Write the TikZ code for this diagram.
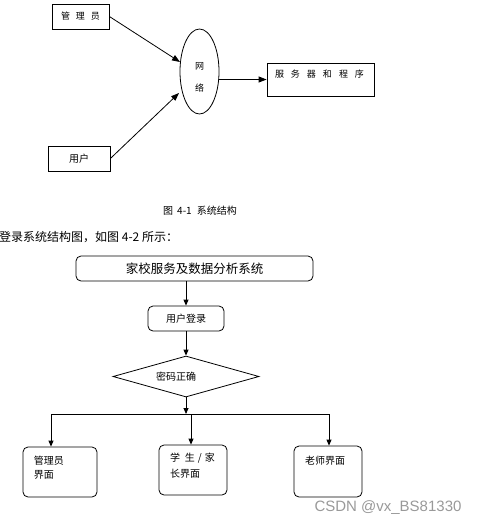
\documentclass[tikz,border=0pt]{standalone}
\usepackage{fontspec}
\setmainfont{Liberation Serif}
\newfontfamily\cjk{Noto Sans CJK SC}
\newfontfamily\wmfont{Liberation Sans}
\usetikzlibrary{arrows.meta,shapes.geometric}
\newcommand\tbox[4]{\parbox[c][#2][t]{#1}{\vspace*{#3}#4}}
\begin{document}
\begin{tikzpicture}[x=1pt,y=-1pt,
  every node/.style={font=\cjk},
  sq/.style={draw, line width=0.8pt, inner sep=0pt},
  rb/.style={draw, line width=0.8pt, inner sep=0pt, rounded corners=5pt},
  bigarr/.style={line width=0.8pt, -{Triangle[length=8pt,width=6pt]}},
  arr/.style={line width=0.8pt, -{Triangle[length=6pt,width=5pt]}},
  ln/.style={line width=0.8pt}]
\useasboundingbox (0,0) rectangle (479,525);
% ---- figure 4-1 ----
\node[sq, minimum width=57pt, minimum height=25pt, font=\cjk\fontsize{9pt}{11pt}\selectfont] (adm) at (80.5,16.5) {管\hspace{6pt}理\hspace{6pt}员};
\node[sq, minimum width=62pt, minimum height=25pt, font=\cjk\fontsize{10pt}{12pt}\selectfont] (usr) at (79,158.5) {用户};
\node[draw, line width=0.8pt, ellipse, minimum width=39pt, minimum height=85pt, inner sep=0pt,
  label={[font=\cjk\fontsize{9pt}{11pt}\selectfont, yshift=-5.5pt]center:{\shortstack{网\\[11pt]络}}}] (net) at (199.5,71.5) {};
\node[sq, font=\cjk\fontsize{9pt}{11pt}\selectfont] (srv) at (320.5,79.5)
  {\tbox{107pt}{33pt}{7pt}{\hspace*{8pt}服\hspace{7pt}务\hspace{7pt}器\hspace{7pt}和\hspace{7pt}程\hspace{7pt}序}};
\coordinate (netin1) at (180,62);
\coordinate (netin2) at (179,93);
\draw[bigarr] (adm.east) -- (netin1);
\draw[bigarr] (usr.east) -- (netin2);
\draw[bigarr] (net.east |- srv.west) -- (srv.west);
\node[font=\cjk\fontsize{10pt}{12pt}\selectfont] (cap) at (200,211) {图\hspace{4pt}4-1\hspace{5pt}系统结构};
\node[anchor=west, inner sep=0pt, font=\cjk\fontsize{12pt}{14pt}\selectfont] (intro) at (-1,237) {登录系统结构图，如图 4-2 所示：};
% ---- figure 4-2 ----
\node[rb, minimum width=237pt, minimum height=25pt, font=\cjk\fontsize{12.5pt}{14pt}\selectfont] (sys) at (194.5,268.5) {家校服务及数据分析系统};
\node[rb, minimum width=76pt, minimum height=25pt, font=\cjk\fontsize{10pt}{12pt}\selectfont] (login) at (186,318.5) {用户登录};
\node[draw, line width=0.8pt, diamond, minimum width=146pt, minimum height=41pt, inner sep=0pt,
  label={[font=\cjk\fontsize{10pt}{12pt}\selectfont, xshift=-10pt]center:密码正确}] (chk) at (186,376.5) {};
\node[rb, font=\cjk\fontsize{10pt}{14pt}\selectfont] (adm2) at (60,472)
  {\tbox{74pt}{50pt}{9pt}{\hspace*{11pt}管理员\\\hspace*{11pt}界面}};
\node[rb, font=\cjk\fontsize{10pt}{16pt}\selectfont] (stu) at (193,470)
  {\tbox{68pt}{50pt}{8pt}{\hspace*{11pt}学\hspace{5pt}生\hspace{3pt}/\hspace{3pt}家\\\hspace*{11pt}长界面}};
\node[rb, font=\cjk\fontsize{10pt}{14pt}\selectfont] (tea) at (328,471.5)
  {\tbox{68pt}{51pt}{10pt}{\hspace*{11pt}老师界面}};
\coordinate (br) at (186,414);
\coordinate (bl) at (51,414);
\coordinate (bm) at (191,414);
\coordinate (bR) at (329,414);
\draw[arr] (sys.south -| login.north) -- (login.north);
\draw[arr] (login.south) -- (chk.north);
\draw[arr] (chk.south) -- (br);
\draw[ln] (bl) -- (bR);
\draw[arr] (bl) -- (bl |- adm2.north);
\draw[arr] (bm) -- (bm |- stu.north);
\draw[arr] (bR) -- (bR |- tea.north);
\node[font=\wmfont\fontsize{15pt}{17pt}\selectfont, text=black!40] (wm) at (388,508) {CSDN @vx\_BS81330};
\end{tikzpicture}
\end{document}
